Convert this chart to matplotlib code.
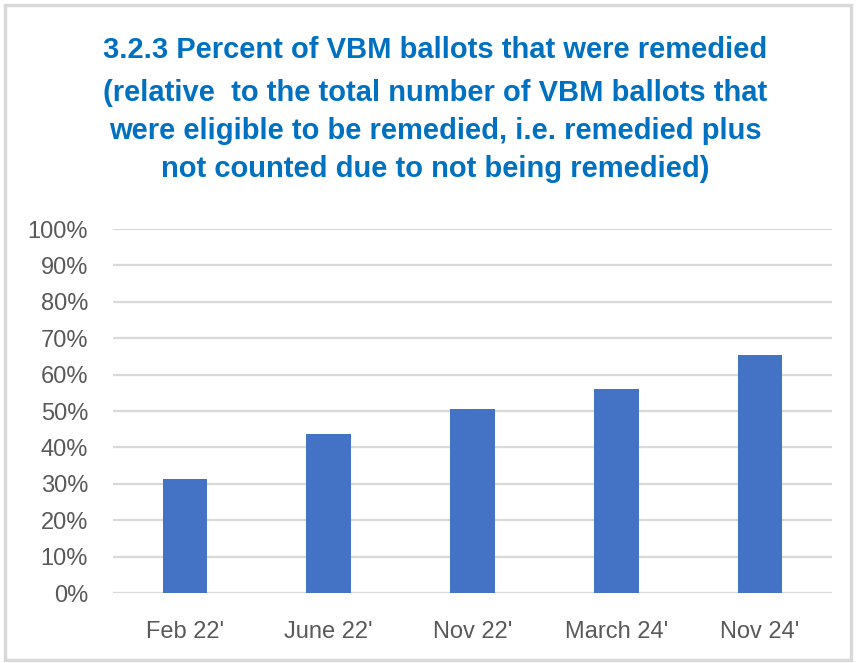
import matplotlib
matplotlib.use("Agg")
import matplotlib.pyplot as plt
from matplotlib import font_manager as fm
from matplotlib.patches import Rectangle

categories = ["Feb 22'", "June 22'", "Nov 22'", "March 24'", "Nov 24'"]
values = [31.2, 43.8, 50.5, 56.0, 65.4]
yticks = [0, 10, 20, 30, 40, 50, 60, 70, 80, 90, 100]
title_lines = [
    "3.2.3 Percent of VBM ballots that were remedied",
    "(relative  to the total number of VBM ballots that",
    "were eligible to be remedied, i.e. remedied plus",
    "not counted due to not being remedied)",
]

names = {f.name for f in fm.fontManager.ttflist}
fam = "Liberation Sans Narrow" if "Liberation Sans Narrow" in names else "Liberation Sans"

fig = plt.figure(figsize=(8.56, 6.63), dpi=100)
fig.patches.append(Rectangle((5/856, 3/663), 846/856, 655/663, transform=fig.transFigure,
                             fill=False, edgecolor="#d9d9d9", linewidth=2.5))

ax = fig.add_axes([113/856, 1-593/663, 719/856, (593-229)/663])
x = range(len(categories))
ax.bar(x, values, width=0.31, color="#4472C4", zorder=3)
ax.set_xlim(-0.5, len(categories)-0.5)
ax.set_ylim(0, 100)
ax.set_yticks(yticks)
ax.set_yticklabels([f"{v}%" for v in yticks])
ax.set_xticks(list(x))
ax.set_xticklabels(categories)
ax.grid(axis="y", color="#d9d9d9", linewidth=1.6, zorder=0)
for s in ax.spines.values():
    s.set_visible(False)
ax.tick_params(axis="both", length=0, labelcolor="#595959", labelsize=17)
ax.tick_params(axis="y", pad=18)
ax.tick_params(axis="x", pad=20)
for lab in ax.get_xticklabels() + ax.get_yticklabels():
    lab.set_family(fam)

ys = [50, 93, 131, 169]
for t, yy in zip(title_lines, ys):
    fig.text(435/856, 1-yy/663, t, ha="center", va="center", color="#0070C0",
             fontsize=21, fontweight="bold", family=fam)

fig.savefig("out.png", dpi=100)
